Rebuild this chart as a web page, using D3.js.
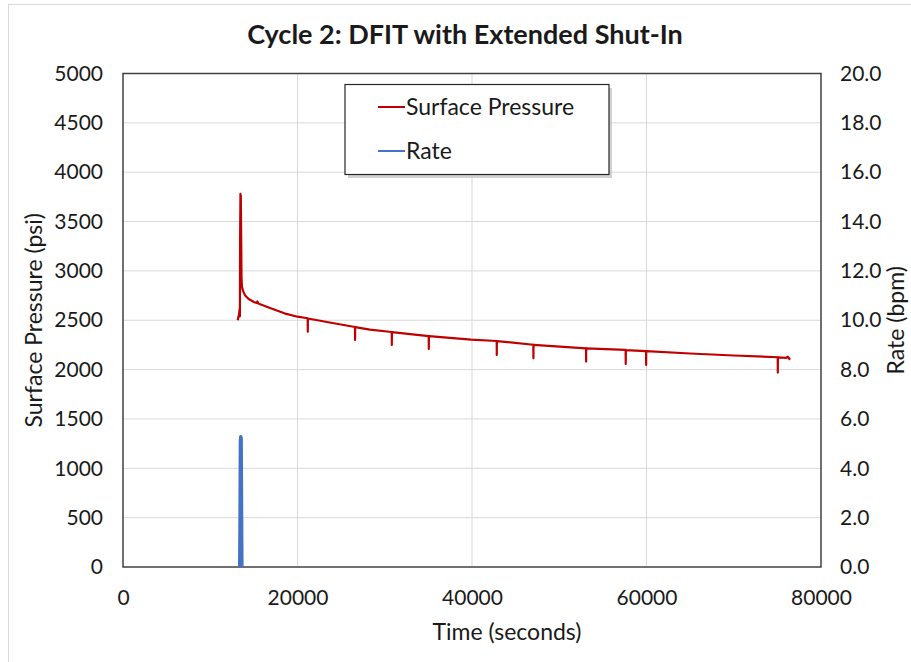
<!DOCTYPE html>
<html>
<head>
<meta charset="utf-8">
<script src="https://cdn.jsdelivr.net/npm/d3@7"></script>
<style>
  html, body { margin: 0; padding: 0; background: #fff; }
  svg { display: block; }
  text { font-family: Lato, "Open Sans", sans-serif; fill: #1a1a1a; }
</style>
</head>
<body>
<svg id="chart" width="911" height="662"></svg>
<script>
// ---------------- DATA ----------------
const title = "Cycle 2: DFIT with Extended Shut-In";
const xTicks = [0, 20000, 40000, 60000, 80000];
const yLeftTicks = [0, 500, 1000, 1500, 2000, 2500, 3000, 3500, 4000, 4500, 5000];
const yRightTicks = [0, 2, 4, 6, 8, 10, 12, 14, 16, 18, 20];

// Surface pressure (psi) vs time (s)
const pressureTime = [
  13150, 13200, 13300, 13380, 13400, 13420, 13460, 13500, 13540, 13580, 13620, 13680,
  13800, 14000, 14400, 15000, 15330, 15400, 15500, 16850, 18500, 20000,
  21170, 21180, 21190,
  24000,
  26590, 26600, 26610,
  28300,
  30800, 30810, 30820,
  35040, 35050, 35060,
  39900,
  42830, 42840, 42850,
  47030, 47040, 47050,
  53070, 53080, 53090,
  57610, 57620, 57630,
  59950, 59960, 59970,
  65000, 70000,
  75040, 75050, 75060,
  76000, 76200, 76450
];
const pressurePsi = [
  2500, 2520, 2560, 2620, 2540, 3300, 3780, 3760, 3400, 2950, 2850, 2820,
  2790, 2750, 2715, 2685, 2675, 2690, 2670, 2624, 2570, 2536,
  2520, 2384, 2518,
  2472,
  2432, 2300, 2431,
  2405,
  2381, 2249, 2380,
  2340, 2209, 2339,
  2303,
  2290, 2148, 2289,
  2252, 2115, 2251,
  2216, 2081, 2215,
  2199, 2057, 2198,
  2188, 2047, 2187,
  2163, 2143,
  2125, 1970, 2124,
  2118, 2130, 2100
];

// Rate (bpm) vs time (s)
const rateTime = [13380, 13420, 13460, 13500, 13540, 13580, 13620];
const rateBpm  = [0, 2.0, 5.1, 5.28, 5.2, 2.5, 0];

// ---------------- LAYOUT ----------------
const svg = d3.select("#chart");
const pLeft = 123, pRight = 821, pTop = 73.5, pBottom = 567;

const x = d3.scaleLinear().domain([0, 80000]).range([pLeft, pRight]);
const yL = d3.scaleLinear().domain([0, 5000]).range([pBottom, pTop]);
const yR = d3.scaleLinear().domain([0, 20]).range([pBottom, pTop]);

// outer chart-area border
svg.append("rect")
  .attr("x", 8.5).attr("y", 4.5).attr("width", 930).attr("height", 700)
  .attr("fill", "none").attr("stroke", "#d9d9d9").attr("stroke-width", 1);

// title
svg.append("text")
  .attr("x", 465).attr("y", 44)
  .attr("text-anchor", "middle")
  .style("font-size", "27px").style("font-weight", "bold")
  .text(title);

// gridlines
const grid = svg.append("g");
grid.selectAll("line.h").data(yLeftTicks.slice(1, -1)).enter().append("line")
  .attr("x1", pLeft).attr("x2", pRight)
  .attr("y1", d => yL(d)).attr("y2", d => yL(d))
  .attr("stroke", "#d9d9d9").attr("stroke-width", 1);
grid.selectAll("line.v").data(xTicks.slice(1, -1)).enter().append("line")
  .attr("y1", pTop).attr("y2", pBottom)
  .attr("x1", d => x(d)).attr("x2", d => x(d))
  .attr("stroke", "#d9d9d9").attr("stroke-width", 1);

// axes (labels only, via d3 axes)
const axL = svg.append("g").attr("transform", `translate(${pLeft},0)`)
  .call(d3.axisLeft(yL).tickValues(yLeftTicks).tickSize(0).tickPadding(20).tickFormat(d3.format("d")));
const axR = svg.append("g").attr("transform", `translate(${pRight},0)`)
  .call(d3.axisRight(yR).tickValues(yRightTicks).tickSize(0).tickPadding(19).tickFormat(d3.format(".1f")));
const axB = svg.append("g").attr("transform", `translate(0,${pBottom})`)
  .call(d3.axisBottom(x).tickValues(xTicks).tickSize(0).tickPadding(23).tickFormat(d3.format("d")));
[axL, axR, axB].forEach(a => {
  a.select(".domain").remove();
  a.selectAll("text").style("font-size", "21px").style("font-family", "Lato, sans-serif").attr("fill", "#1a1a1a");
});

// plot frame
svg.append("rect")
  .attr("x", pLeft).attr("y", pTop).attr("width", pRight - pLeft).attr("height", pBottom - pTop)
  .attr("fill", "none").attr("stroke", "#404040").attr("stroke-width", 1.5);

// axis titles
svg.append("text")
  .attr("transform", `translate(42,${(pTop + pBottom) / 2}) rotate(-90)`)
  .attr("text-anchor", "middle").style("font-size", "23px")
  .text("Surface Pressure (psi)");
svg.append("text")
  .attr("transform", `translate(904,${(pTop + pBottom) / 2}) rotate(-90)`)
  .attr("text-anchor", "middle").style("font-size", "23px")
  .text("Rate (bpm)");
svg.append("text")
  .attr("x", 507).attr("y", 640)
  .attr("text-anchor", "middle").style("font-size", "23px")
  .text("Time (seconds)");

// series
const pData = pressureTime.map((t, i) => [t, pressurePsi[i]]);
const rData = rateTime.map((t, i) => [t, rateBpm[i]]);

svg.append("path").datum(rData)
  .attr("fill", "none").attr("stroke", "#4472C4").attr("stroke-width", 3.5)
  .attr("stroke-linejoin", "round")
  .attr("d", d3.line().x(d => x(d[0])).y(d => yR(d[1])));

svg.append("path").datum(pData)
  .attr("fill", "none").attr("stroke", "#C00000").attr("stroke-width", 2.2)
  .attr("stroke-linejoin", "round")
  .attr("d", d3.line().x(d => x(d[0])).y(d => yL(d[1])));

// legend
const lg = svg.append("g");
lg.append("rect").attr("x", 348).attr("y", 88).attr("width", 264).attr("height", 90)
  .attr("fill", "#bfbfbf").attr("opacity", 0.7);
lg.append("rect").attr("x", 345).attr("y", 84.5).attr("width", 264).attr("height", 90)
  .attr("fill", "#fff").attr("stroke", "#262626").attr("stroke-width", 1.2);
const legendItems = [{name: "Surface Pressure", color: "#C00000", y: 107},
                     {name: "Rate", color: "#4472C4", y: 151}];
legendItems.forEach(it => {
  lg.append("line").attr("x1", 378).attr("x2", 405).attr("y1", it.y).attr("y2", it.y)
    .attr("stroke", it.color).attr("stroke-width", 2);
  lg.append("text").attr("x", 406).attr("y", it.y + 8).style("font-size", "23px").text(it.name);
});
</script>
</body>
</html>
